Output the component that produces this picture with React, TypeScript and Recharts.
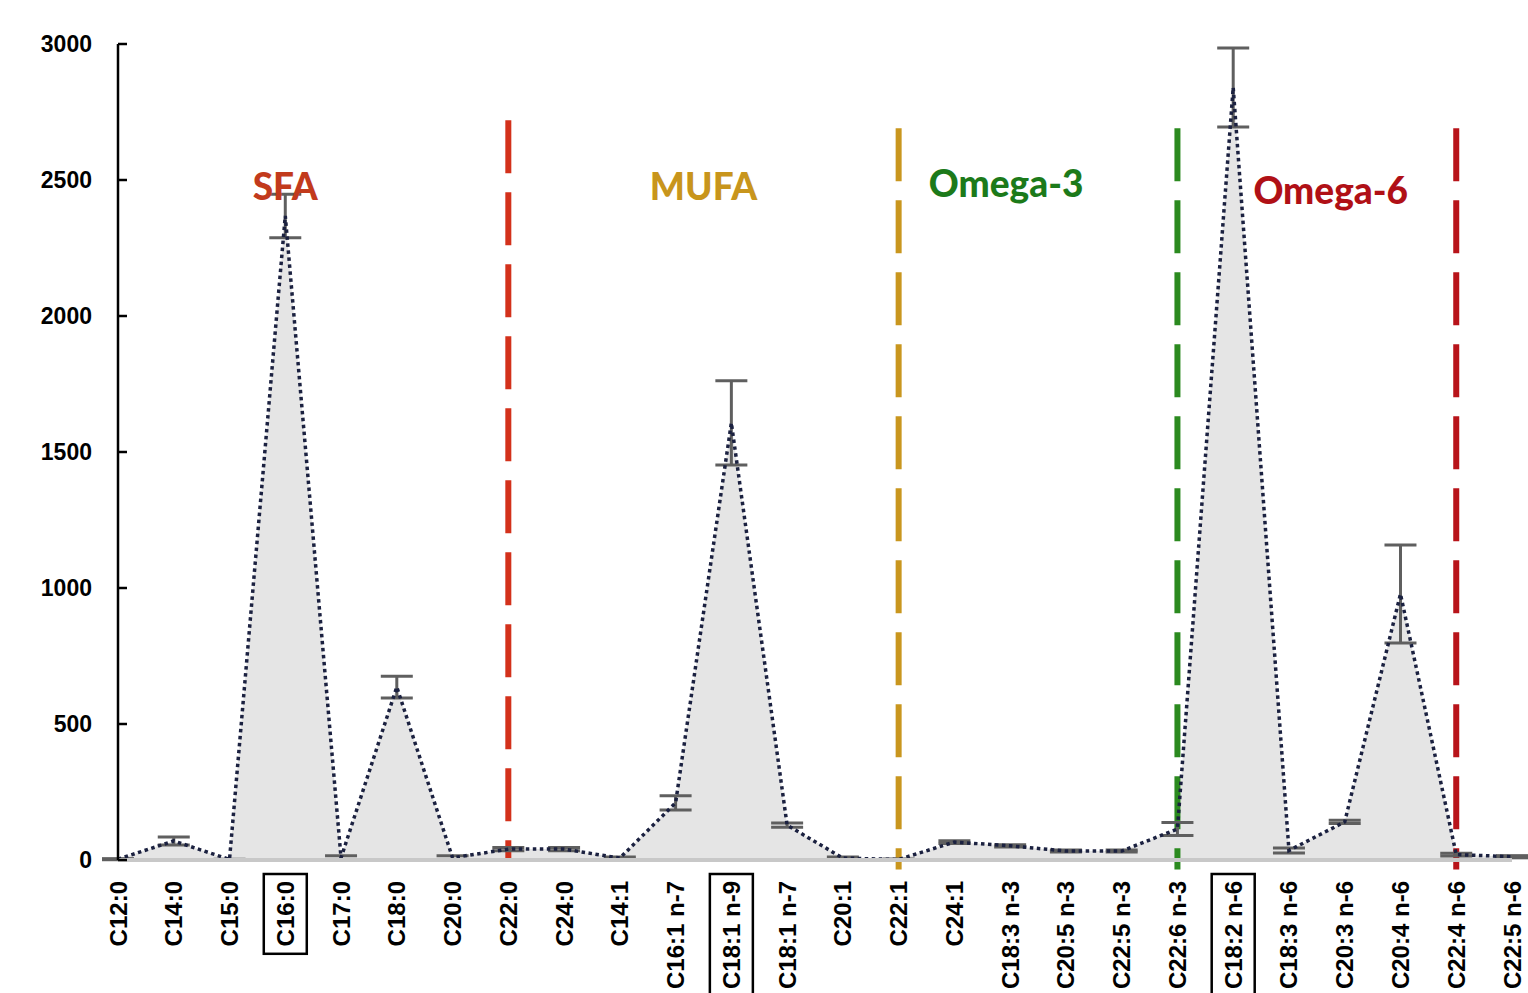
import React from "react";
import {
  ComposedChart,
  Area,
  Line,
  ErrorBar,
  XAxis,
  YAxis,
  ReferenceLine,
  ReferenceDot,
} from "recharts";

const categories = [
  "C12:0", "C14:0", "C15:0", "C16:0", "C17:0", "C18:0", "C20:0", "C22:0", "C24:0",
  "C14:1", "C16:1 n-7", "C18:1 n-9", "C18:1 n-7", "C20:1", "C22:1", "C24:1",
  "C18:3 n-3", "C20:5 n-3", "C22:5 n-3", "C22:6 n-3",
  "C18:2 n-6", "C18:3 n-6", "C20:3 n-6", "C20:4 n-6", "C22:4 n-6", "C22:5 n-6",
];
const means = [3, 70, 2, 2368, 8, 636, 8, 40, 40, 7, 210, 1607, 128, 7, 2, 66, 52, 33, 33, 114, 2840, 35, 140, 978, 20, 12];
const errors = [2, 15, 1, 80, 8, 40, 8, 6, 6, 4, 26, 155, 8, 4, 2, 5, 4, 4, 4, 24, 145, 9, 6, 180, 5, 4];
const yTicks = [0, 500, 1000, 1500, 2000, 2500, 3000];
const boxedLabels = ["C16:0", "C18:1 n-9", "C18:2 n-6"];

const dividers = [
  { x: "C22:0", top: 2720, bottom: 0, color: "#d3311b" },
  { x: "C22:1", top: 2690, bottom: -35, color: "#c9961e" },
  { x: "C22:6 n-3", top: 2690, bottom: -35, color: "#2b8a1f" },
  { x: "C22:4 n-6", top: 2690, bottom: -35, color: "#b8141a" },
];

const groupLabels = [
  { text: "SFA", x: "C16:0", y: 2478, dx: 0, color: "#c23a1c" },
  { text: "MUFA", x: "C16:1 n-7", y: 2478, dx: 28, color: "#c8951c" },
  { text: "Omega-3", x: "C18:3 n-3", y: 2490, dx: -4, color: "#1c7a1a" },
  { text: "Omega-6", x: "C20:3 n-6", y: 2465, dx: -14, color: "#b01016" },
];

const data = categories.map((name, i) => ({ name, value: means[i], err: errors[i] }));

const XTick = (props: any) => {
  const { x, payload } = props;
  const label: string = payload.value;
  const fs = 24;
  const top = 881;
  const boxed = boxedLabels.includes(label);
  const len = label.length * 0.565 * fs;
  return (
    <g>
      {boxed && (
        <rect x={x - 21.5} y={874} width={43} height={len + 12} fill="none" stroke="#000" strokeWidth={2.5} />
      )}
      <text
        x={x}
        y={top}
        transform={`rotate(-90, ${x}, ${top})`}
        textAnchor="end"
        dominantBaseline="central"
        fontFamily="'Liberation Sans', Arial, sans-serif"
        fontWeight={700}
        fontSize={fs}
        fill="#000"
      >
        {label}
      </text>
    </g>
  );
};

const YTick = (props: any) => {
  const { x, y, payload } = props;
  return (
    <g>
      <line x1={x} x2={x + 9} y1={y} y2={y} stroke="#000" strokeWidth={2.5} />
      <text
        x={x - 26}
        y={y}
        textAnchor="end"
        dominantBaseline="central"
        fontFamily="'Liberation Sans', Arial, sans-serif"
        fontWeight={700}
        fontSize={23}
        fill="#000"
      >
        {payload.value}
      </text>
    </g>
  );
};

const GroupLabel = (color: string, text: string, dx: number) => (props: any) => {
  const { viewBox } = props;
  const cx = viewBox.x + viewBox.width / 2 + dx;
  const cy = viewBox.y + viewBox.height / 2;
  return (
    <text
      x={cx}
      y={cy}
      textAnchor="middle"
      dominantBaseline="central"
      fontFamily="Lato, 'Open Sans', sans-serif"
      fontWeight={900}
      fontSize={37}
      fill={color}
    >
      {text}
    </text>
  );
};

export default function App() {
  return (
    <div style={{ position: "absolute", left: 0, top: 0, width: 1528, height: 993, background: "#fff" }}>
      <ComposedChart
        width={1528}
        height={993}
        data={data}
        margin={{ top: 44, right: 16, bottom: 3, left: 58 }}
      >
        <XAxis
          dataKey="name"
          interval={0}
          height={130}
          axisLine={{ stroke: "#c8c8c8", strokeWidth: 4 }}
          tickLine={false}
          tick={<XTick />}
        />
        <YAxis
          width={60}
          domain={[0, 3000]}
          ticks={yTicks}
          tickSize={0}
          tickMargin={0}
          tickLine={false}
          axisLine={{ stroke: "#000", strokeWidth: 2.5 }}
          tick={<YTick />}
        />
        <Area
          type="linear"
          dataKey="value"
          stroke="none"
          fill="#e5e5e5"
          fillOpacity={1}
          isAnimationActive={false}
        />
        {dividers.map((d) => (
          <ReferenceLine
            key={d.x}
            segment={[
              { x: d.x, y: d.top },
              { x: d.x, y: d.bottom },
            ]}
            stroke={d.color}
            strokeWidth={6}
            strokeDasharray="53 19"
            ifOverflow="visible"
          />
        ))}
        <Line
          type="linear"
          dataKey="value"
          stroke="#1b2140"
          strokeWidth={3.5}
          strokeDasharray="3.5 3.5"
          dot={false}
          activeDot={false}
          isAnimationActive={false}
        >
          <ErrorBar dataKey="err" width={16} stroke="#5f5f5f" strokeWidth={3} direction="y" />
        </Line>
        {groupLabels.map((g) => (
          <ReferenceDot
            key={g.text}
            x={g.x}
            y={g.y}
            r={0}
            fill="none"
            stroke="none"
            label={GroupLabel(g.color, g.text, g.dx)}
          />
        ))}
      </ComposedChart>
    </div>
  );
}
